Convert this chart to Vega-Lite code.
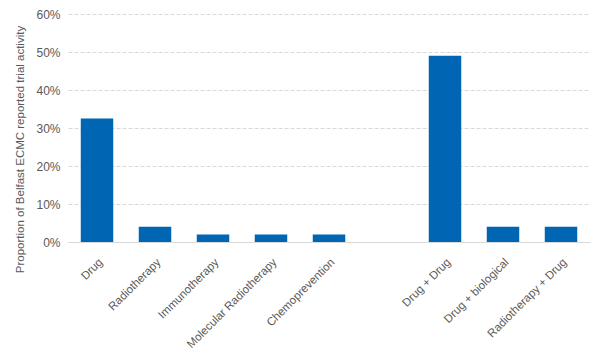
{
  "$schema": "https://vega.github.io/schema/vega-lite/v6.json",
  "width": 604,
  "height": 353,
  "autosize": {"type": "fit", "contains": "padding"},
  "padding": {"left": 14, "top": 8, "right": 14, "bottom": 2},
  "background": "white",
  "config": {"view": {"stroke": null}, "font": "Liberation Sans"},
  "data": {
    "values": [
      {"category": "Drug", "value": 0.325},
      {"category": "Radiotherapy", "value": 0.04},
      {"category": "Immunotherapy", "value": 0.02},
      {"category": "Molecular Radiotherapy", "value": 0.02},
      {"category": "Chemoprevention", "value": 0.02},
      {"category": " ", "value": 0},
      {"category": "Drug + Drug", "value": 0.49},
      {"category": "Drug + biological", "value": 0.04},
      {"category": "Radiotherapy + Drug", "value": 0.04}
    ]
  },
  "mark": {"type": "bar", "color": "#0066b3"},
  "encoding": {
    "x": {
      "field": "category",
      "type": "nominal",
      "sort": null,
      "scale": {
        "domain": ["Drug", "Radiotherapy", "Immunotherapy", "Molecular Radiotherapy", "Chemoprevention", " ", "Drug + Drug", "Drug + biological", "Radiotherapy + Drug"],
        "paddingInner": 0.44,
        "paddingOuter": 0.22
      },
      "axis": {
        "title": null,
        "labelAngle": -45,
        "labelAlign": "right",
        "labelBaseline": "top",
        "labelFontSize": 11.5,
        "labelColor": "#595959",
        "ticks": false,
        "domainColor": "#d9d9d9",
        "labelPadding": 14,
        "labelDx": 6
      }
    },
    "y": {
      "field": "value",
      "type": "quantitative",
      "scale": {"domain": [0, 0.6]},
      "axis": {
        "title": "Proportion of Belfast ECMC reported trial activity",
        "titleFontSize": 11.5,
        "titleFontWeight": "normal",
        "titleColor": "#595959",
        "titlePadding": 10,
        "titleY": 135,
        "format": ".0%",
        "values": [0, 0.1, 0.2, 0.3, 0.4, 0.5, 0.6],
        "labelFontSize": 12,
        "labelColor": "#595959",
        "labelPadding": 8,
        "ticks": false,
        "domain": false,
        "gridColor": "#d9d9d9",
        "gridDash": [4, 2]
      }
    }
  }
}
